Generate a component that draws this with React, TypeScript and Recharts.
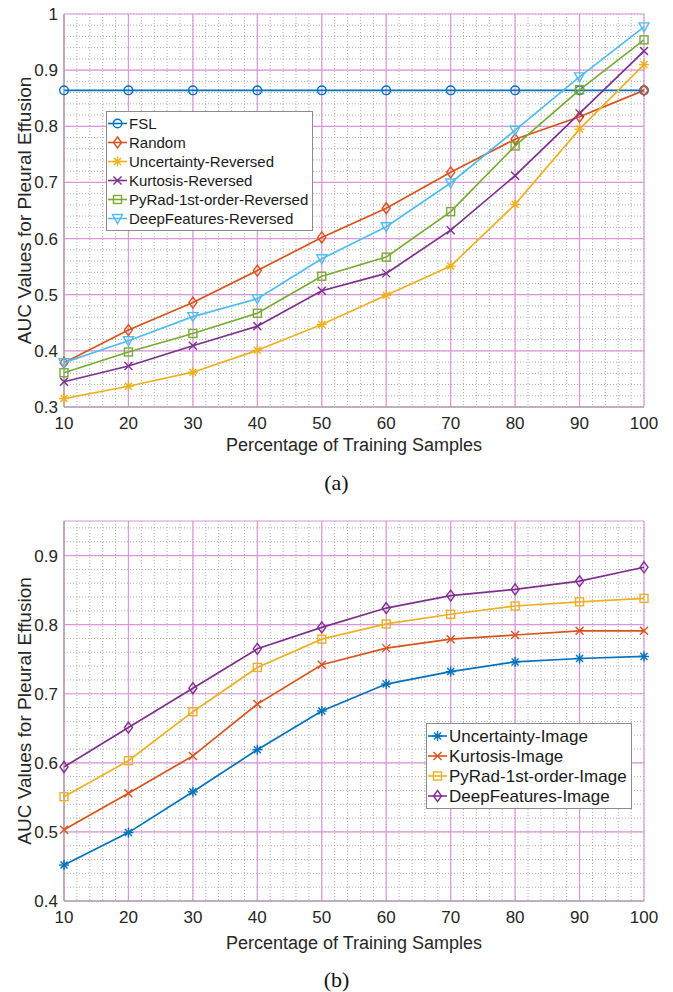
import React from 'react';
import { LineChart, Line, XAxis, YAxis, CartesianGrid, Legend } from 'recharts';

// x positions (percentage of training samples)
const percents = [10, 20, 30, 40, 50, 60, 70, 80, 90, 100];

// (a) reversed ordering curves
const fslA = [0.864, 0.864, 0.864, 0.864, 0.864, 0.864, 0.864, 0.864, 0.864, 0.864];
const randomA = [0.379, 0.437, 0.486, 0.543, 0.602, 0.654, 0.718, 0.777, 0.817, 0.864];
const uncertaintyRevA = [0.315, 0.337, 0.362, 0.401, 0.447, 0.499, 0.551, 0.661, 0.795, 0.91];
const kurtosisRevA = [0.345, 0.373, 0.409, 0.444, 0.507, 0.538, 0.615, 0.712, 0.823, 0.934];
const pyradRevA = [0.361, 0.398, 0.431, 0.467, 0.533, 0.567, 0.648, 0.765, 0.865, 0.954];
const deepRevA = [0.379, 0.418, 0.461, 0.493, 0.564, 0.621, 0.699, 0.793, 0.888, 0.977];

// (b) image-level curves
const uncertaintyImgB = [0.452, 0.499, 0.558, 0.619, 0.675, 0.714, 0.732, 0.746, 0.751, 0.754];
const kurtosisImgB = [0.503, 0.556, 0.61, 0.685, 0.742, 0.766, 0.779, 0.785, 0.791, 0.791];
const pyradImgB = [0.551, 0.603, 0.674, 0.738, 0.779, 0.801, 0.815, 0.827, 0.833, 0.838];
const deepImgB = [0.594, 0.651, 0.708, 0.765, 0.796, 0.824, 0.842, 0.851, 0.863, 0.883];

// ticks
const xTicks = [10, 20, 30, 40, 50, 60, 70, 80, 90, 100];
const yTicksA = [0.3, 0.4, 0.5, 0.6, 0.7, 0.8, 0.9, 1];
const yTicksB = [0.4, 0.5, 0.6, 0.7, 0.8, 0.9];

const steps = (from: number, to: number, step: number) => {
  const out: number[] = [];
  for (let v = from; v <= to + 1e-9; v += step) out.push(Math.round(v * 1000) / 1000);
  return out;
};
const xMinor = steps(10, 100, 2);
const yMinorA = steps(0.3, 1, 0.02);
const yMinorB = steps(0.4, 0.95, 0.02);
const xDomain = [10, 100];

const C = {
  blue: '#0072BD',
  orange: '#D95319',
  yellow: '#EDB120',
  purple: '#7E2F8E',
  green: '#77AC30',
  cyan: '#4DBEEE',
};

const seriesA = [
  { key: 'fsl', name: 'FSL', values: fslA, color: C.blue, shape: 'circle' },
  { key: 'random', name: 'Random', values: randomA, color: C.orange, shape: 'diamond' },
  { key: 'unc', name: 'Uncertainty-Reversed', values: uncertaintyRevA, color: C.yellow, shape: 'star' },
  { key: 'kurt', name: 'Kurtosis-Reversed', values: kurtosisRevA, color: C.purple, shape: 'x' },
  { key: 'pyrad', name: 'PyRad-1st-order-Reversed', values: pyradRevA, color: C.green, shape: 'square' },
  { key: 'deep', name: 'DeepFeatures-Reversed', values: deepRevA, color: C.cyan, shape: 'triangle' },
];

const seriesB = [
  { key: 'unc', name: 'Uncertainty-Image', values: uncertaintyImgB, color: C.blue, shape: 'star' },
  { key: 'kurt', name: 'Kurtosis-Image', values: kurtosisImgB, color: C.orange, shape: 'x' },
  { key: 'pyrad', name: 'PyRad-1st-order-Image', values: pyradImgB, color: C.yellow, shape: 'square' },
  { key: 'deep', name: 'DeepFeatures-Image', values: deepImgB, color: C.purple, shape: 'diamond' },
];

const toRows = (series: any[]) =>
  percents.map((p, i) => {
    const row: any = { pct: p };
    series.forEach((s) => (row[s.key] = s.values[i]));
    return row;
  });

const dataA = toRows(seriesA);
const dataB = toRows(seriesB);

const Marker = ({ cx, cy, shape, color }: any) => {
  if (cx == null || cy == null) return null;
  const common = { fill: 'none', stroke: color, strokeWidth: 1.4 };
  switch (shape) {
    case 'circle':
      return <circle cx={cx} cy={cy} r={4.3} {...common} />;
    case 'diamond':
      return <polygon points={`${cx},${cy - 5.5} ${cx + 4},${cy} ${cx},${cy + 5.5} ${cx - 4},${cy}`} {...common} />;
    case 'square':
      return <rect x={cx - 4} y={cy - 4} width={8} height={8} {...common} />;
    case 'triangle':
      return <polygon points={`${cx - 5},${cy - 4} ${cx + 5},${cy - 4} ${cx},${cy + 5}`} {...common} />;
    case 'x':
      return (
        <g {...common}>
          <line x1={cx - 4} y1={cy - 4} x2={cx + 4} y2={cy + 4} />
          <line x1={cx - 4} y1={cy + 4} x2={cx + 4} y2={cy - 4} />
        </g>
      );
    default:
      return (
        <g {...common}>
          <line x1={cx - 5} y1={cy} x2={cx + 5} y2={cy} />
          <line x1={cx} y1={cy - 5} x2={cx} y2={cy + 5} />
          <line x1={cx - 3.5} y1={cy - 3.5} x2={cx + 3.5} y2={cy + 3.5} />
          <line x1={cx - 3.5} y1={cy + 3.5} x2={cx + 3.5} y2={cy - 3.5} />
        </g>
      );
  }
};

const LegendBox = ({ series, rowHeight, fontSize }: any) => (
  <div style={{ border: '1px solid #8c8c8c', background: '#fff', padding: '2px 4px 2px 0' }}>
    {series.map((s: any) => (
      <div key={s.key} style={{ display: 'flex', alignItems: 'center', height: rowHeight }}>
        <svg width={21} height={rowHeight} style={{ display: 'block' }}>
          <line x1={1} x2={20} y1={rowHeight / 2} y2={rowHeight / 2} stroke={s.color} strokeWidth={1.6} />
          <Marker cx={10.5} cy={rowHeight / 2} shape={s.shape} color={s.color} />
        </svg>
        <span style={{ marginLeft: 1, fontSize, color: '#1a1a1a', lineHeight: 1 }}>{s.name}</span>
      </div>
    ))}
  </div>
);

const fmt = (v: number) => String(Number(v.toFixed(2)));
const tickStyle = { fontSize: 17, fill: '#262626' };

// minor grid (dotted) positions, mapped through the axis scale when available
const useScale = (axis: any, v: number) => {
  const s = axis && axis.scale;
  if (typeof s === 'function') return s(v);
  if (s && typeof s.map === 'function') return s.map(v);
  return null;
};
const minorVertical = (props: any) => {
  const { xAxis, offset } = props;
  return xMinor.map((v) => {
    const p = useScale(xAxis, v);
    return p != null ? p : offset.left + (offset.width * (v - xDomain[0])) / (xDomain[1] - xDomain[0]);
  });
};
const minorHorizontal = (ticks: number[], domain: number[]) => (props: any) => {
  const { yAxis, offset } = props;
  return ticks.map((v) => {
    const p = useScale(yAxis, v);
    return p != null ? p : offset.top + (offset.height * (domain[1] - v)) / (domain[1] - domain[0]);
  });
};

const Panel = ({ data, series, yDomain, yTicks, yMinor, height, marginTop, legendPos, rowHeight, legendFont, titleOffset }: any) => (
  <LineChart
    width={673}
    height={height}
    data={data}
    margin={{ top: marginTop, right: 29, bottom: 0, left: 0 }}
  >
    <CartesianGrid
      stroke="#adadad"
      strokeDasharray="1 2"
      strokeWidth={1}
      verticalCoordinatesGenerator={minorVertical}
      horizontalCoordinatesGenerator={minorHorizontal(yMinor, yDomain)}
    />
    <CartesianGrid stroke="#dc96dc" strokeWidth={1.2} />
    <XAxis
      dataKey="pct"
      type="number"
      domain={xDomain}
      ticks={xTicks}
      height={53}
      tickLine={false}
      tickSize={0}
      tickMargin={10}
      tick={tickStyle}
      axisLine={{ stroke: '#9a9a9a' }}
      label={{ value: 'Percentage of Training Samples', position: 'insideBottom', offset: titleOffset, fontSize: 18, fill: '#262626' }}
    />
    <YAxis
      type="number"
      domain={yDomain}
      ticks={yTicks}
      width={64}
      tickLine={false}
      tickSize={0}
      tickMargin={6}
      tick={tickStyle}
      tickFormatter={fmt}
      axisLine={{ stroke: '#9a9a9a' }}
      label={{
        value: 'AUC Values for Pleural Effusion',
        angle: -90,
        position: 'insideLeft',
        offset: 24,
        fontSize: 19,
        fill: '#262626',
        style: { textAnchor: 'middle' },
      }}
    />
    <Legend
      layout="vertical"
      align="center"
      verticalAlign="middle"
      wrapperStyle={{ left: legendPos.left, top: legendPos.top, width: 'auto', height: 'auto' }}
      content={() => <LegendBox series={series} rowHeight={rowHeight} fontSize={legendFont} />}
    />
    {series.map((s: any) => (
      <Line
        key={s.key}
        type="linear"
        dataKey={s.key}
        name={s.name}
        stroke={s.color}
        strokeWidth={1.7}
        isAnimationActive={false}
        dot={(p: any) => <Marker key={`${s.key}-${p.index}`} cx={p.cx} cy={p.cy} shape={s.shape} color={s.color} />}
        activeDot={false}
      />
    ))}
  </LineChart>
);

const captionStyle: React.CSSProperties = {
  position: 'absolute',
  left: 0,
  width: 673,
  textAlign: 'center',
  fontFamily: '"Liberation Serif", "Times New Roman", serif',
  fontSize: 22,
  color: '#111',
  lineHeight: 1,
};

export default function App() {
  return (
    <div
      style={{
        position: 'absolute',
        left: 0,
        top: 0,
        width: 673,
        height: 992,
        background: '#fff',
        fontFamily: '"Liberation Sans", Arial, Helvetica, sans-serif',
      }}
    >
      <div style={{ position: 'absolute', left: 0, top: 0 }}>
        <Panel
          data={dataA}
          series={seriesA}
          yDomain={[0.3, 1]}
          yTicks={yTicksA}
          yMinor={yMinorA}
          height={460}
          marginTop={14}
          legendPos={{ left: 106, top: 111 }}
          rowHeight={19}
          legendFont={15}
          titleOffset={9}
        />
      </div>
      <div style={{ ...captionStyle, top: 472 }}>(a)</div>
      <div style={{ position: 'absolute', left: 0, top: 500 }}>
        <Panel
          data={dataB}
          series={seriesB}
          yDomain={[0.4, 0.95]}
          yTicks={yTicksB}
          yMinor={yMinorB}
          height={454}
          marginTop={21}
          legendPos={{ left: 426, top: 223 }}
          rowHeight={20}
          legendFont={17}
          titleOffset={5}
        />
      </div>
      <div style={{ ...captionStyle, top: 969 }}>(b)</div>
    </div>
  );
}
